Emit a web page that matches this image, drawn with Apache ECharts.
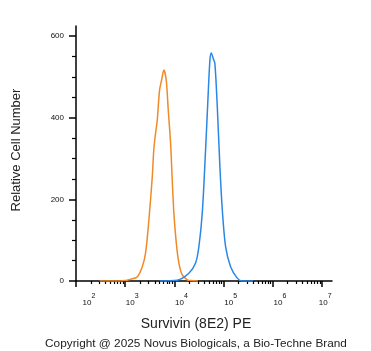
<!DOCTYPE html>
<html>
<head>
<meta charset="utf-8">
<script src="https://cdn.jsdelivr.net/npm/echarts@6/dist/echarts.min.js"></script>
<style>
html,body{margin:0;padding:0;background:#fff;}
#chart{width:371px;height:351px;}
</style>
</head>
<body>
<div id="chart"></div>
<script>
// Orange histogram (control): intensity, cell count
const orangeX = [300, 800, 1000, 1100, 1280, 1750, 2220, 2590, 3020, 3540, 3810, 4130, 4470, 4980, 5470, 6100, 6810, 7480, 8340, 9020, 9720, 10900, 12300, 14400, 18200, 21200, 30000];
const orangeY = [0, 0, 1, 2, 4, 10, 35, 69, 149, 255, 323, 362, 394, 468, 492, 517, 492, 419, 338, 247, 167, 93, 44, 15, 3, 1, 0];
// Blue histogram (Survivin (8E2) PE)
const blueX = [5000, 11400, 19600, 26850, 31330, 36730, 42850, 47750, 52480, 55980, 61500, 66220, 74130, 83750, 93760, 109400, 138000, 188800, 238800, 400000];
const blueY = [0, 2, 19, 44, 84, 167, 321, 443, 541, 559, 545, 533, 427, 280, 174, 84, 35, 7, 0, 0];
// Axis ticks
const xMajorTicks = [1e2, 1e3, 1e4, 1e5, 1e6, 1e7];
const xMinorMultipliers = [2, 3, 4, 5, 6, 7, 8, 9];
const yMajorTicks = [0, 200, 400, 600];
const yMinorTicks = [50, 100, 150, 250, 300, 350, 450, 500, 550];
const xTitle = 'Survivin (8E2) PE';
const yTitle = 'Relative Cell Number';
const copyright = 'Copyright @ 2025 Novus Biologicals, a Bio-Techne Brand';

// minor tick positions (in decade exponent space for a tick-only helper axis)
const xMinorExp = [];
for (let d = 2; d <= 6; d++) { xMinorMultipliers.forEach(m => xMinorExp.push(Math.log10(m * Math.pow(10, d)))); }
const LOG_MIN = 100, LOG_MAX = 15848932;

const pair = (xs, ys) => xs.map((x, i) => [x, ys[i]]);
const FONT = 'Liberation Sans, Arial, sans-serif';
const spacer = {2: 26, 7: 6};

const chart = echarts.init(document.getElementById('chart'), null, {renderer: 'canvas'});
chart.setOption({
  animation: false,
  backgroundColor: '#ffffff',
  grid: {left: 76, right: 39, top: 26, bottom: 70, containLabel: false},
  xAxis: [{
    type: 'log', logBase: 10, min: LOG_MIN, max: LOG_MAX,
    axisLine: {show: true, lineStyle: {color: '#000', width: 1.5}},
    axisTick: {show: true, length: 6, lineStyle: {color: '#000', width: 1.5}},
    splitLine: {show: false},
    axisLabel: {
      show: true, margin: 12, align: 'center',
      formatter: function (v) {
        const e = Math.round(Math.log10(v));
        const st = spacer[e] !== undefined ? ('sp' + e) : 'sp';
        return '{' + st + '| }{b|10}{s|' + e + '}';
      },
      rich: {
        sp: {width: 14, fontSize: 8},
        sp2: {width: 26, fontSize: 8},
        sp7: {width: 6, fontSize: 8},
        b: {fontSize: 8, fontFamily: FONT, color: '#111', verticalAlign: 'bottom', lineHeight: 10},
        s: {fontSize: 7, fontFamily: FONT, color: '#111', verticalAlign: 'top', lineHeight: 14, padding: [0, 0, 2, 0]}
      }
    }
  }, {
    // helper axis drawing only the minor decade ticks
    type: 'value', min: Math.log10(LOG_MIN), max: Math.log10(LOG_MAX), position: 'bottom',
    axisLine: {show: false},
    axisTick: {show: true, customValues: xMinorExp, length: 3, lineStyle: {color: '#000', width: 1.2}},
    axisLabel: {show: false},
    splitLine: {show: false}
  }],
  yAxis: [{
    type: 'value', min: 0, max: 625,
    axisLine: {show: true, lineStyle: {color: '#000', width: 1.5}},
    axisTick: {show: true, customValues: yMajorTicks, length: 7, lineStyle: {color: '#000', width: 1.5}},
    axisLabel: {show: true, customValues: yMajorTicks, margin: 12, fontSize: 8, fontFamily: FONT, color: '#111'},
    splitLine: {show: false}
  }, {
    type: 'value', min: 0, max: 625, position: 'left',
    axisLine: {show: false},
    axisTick: {show: true, customValues: yMinorTicks, length: 4, lineStyle: {color: '#000', width: 1.2}},
    axisLabel: {show: false},
    splitLine: {show: false}
  }],
  series: [{
    type: 'line', name: 'control', data: pair(orangeX, orangeY), xAxisIndex: 0, yAxisIndex: 0,
    showSymbol: false, smooth: 0.3, lineStyle: {color: '#f08a28', width: 1.5}, z: 3
  }, {
    type: 'line', name: 'survivin', data: pair(blueX, blueY), xAxisIndex: 0, yAxisIndex: 0,
    showSymbol: false, smooth: 0.3, lineStyle: {color: '#2a87e3', width: 1.5}, z: 3
  }],
  graphic: [{
    type: 'text', x: 196, y: 324,
    style: {text: xTitle, fontSize: 14, fontFamily: FONT, fill: '#222', align: 'center', verticalAlign: 'middle'}
  }, {
    type: 'text', x: 16, y: 150, rotation: Math.PI / 2,
    style: {text: yTitle, fontSize: 13, fontFamily: FONT, fill: '#222', align: 'center', verticalAlign: 'middle'}
  }, {
    type: 'text', x: 196, y: 344,
    style: {text: copyright, fontSize: 11.8, fontFamily: FONT, fill: '#222', align: 'center', verticalAlign: 'middle'}
  }]
});
</script>
</body>
</html>
